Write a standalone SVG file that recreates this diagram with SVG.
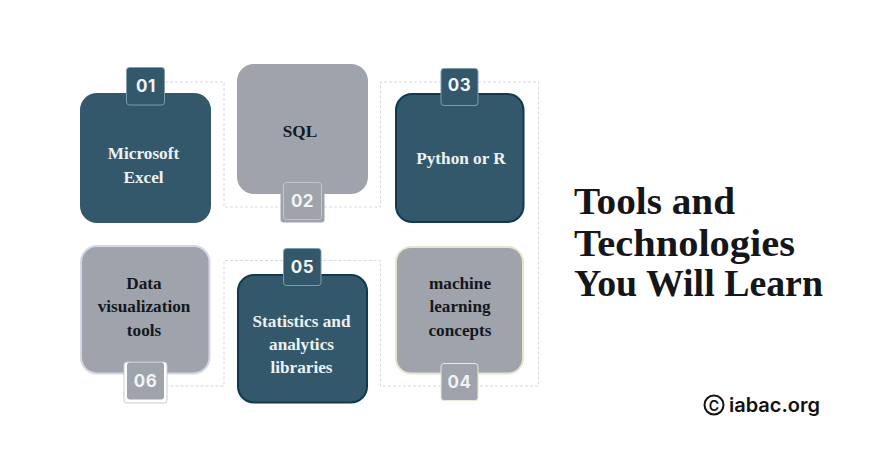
<svg xmlns="http://www.w3.org/2000/svg" width="870" height="463" viewBox="0 0 870 463">
<style>
.card{stroke-width:2}
.dark{fill:#33586c}
.grey{fill:#9ea3ac}
.lbl{font-family:"Liberation Serif",serif;font-weight:700;font-size:17.2px;text-anchor:middle}
.w{fill:#eef1f2}
.k{fill:#14171c}
.num{font-family:"Inter","Liberation Sans",sans-serif;font-weight:700;font-size:17px;text-anchor:middle;fill:#f1f3f4;letter-spacing:.5px}
.title{font-family:"Liberation Serif",serif;font-weight:700;font-size:38px;fill:#14161a}
.dash{fill:none;stroke:#d6d8db;stroke-width:1;stroke-dasharray:3 2}
</style>
<rect width="870" height="463" fill="#ffffff"/>
<g id="connectors">
<path class="dash" d="M165 82H224V207H281"/>
<path class="dash" d="M324 207H380.500V82H441"/>
<path class="dash" d="M478 82H538.500V386H478"/>
<path class="dash" d="M441 386H380.500V260.500H321"/>
<path class="dash" d="M283 260.500H224V386H167"/>
</g>
<g id="node-01">
<rect class="dark" x="80" y="93" width="131" height="130" rx="17"/>
<rect class="dark" x="126.500" y="67.500" width="38" height="37.500" rx="3" stroke="#7f9cac" stroke-width="1"/>
<text class="num" x="146" y="92">01</text>
<text class="lbl w" x="143.500" y="159">Microsoft</text>
<text class="lbl w" x="143.500" y="183">Excel</text>
</g>
<g id="node-02">
<rect class="grey" x="237" y="64" width="131" height="130" rx="17"/>
<rect x="280.500" y="181.500" width="44" height="41" rx="3" fill="#9ea3ac"/>
<rect class="grey" x="283.500" y="182.500" width="38" height="37" rx="3" stroke="#c3c6cc" stroke-width="1"/>
<text class="num" x="302.500" y="207">02</text>
<text class="lbl k" x="300" y="137">SQL</text>
</g>
<g id="node-03">
<rect class="dark card" x="396" y="94" width="127.500" height="128" rx="16" stroke="#0f3a50"/>
<rect class="dark" x="441" y="68.500" width="37" height="37" rx="3" stroke="#7f9cac" stroke-width="1"/>
<text class="num" x="459.500" y="91">03</text>
<text class="lbl w" x="461" y="164">Python or R</text>
</g>
<g id="node-04">
<rect class="grey card" x="396" y="247" width="127" height="126.500" rx="15" stroke="#e3e5cf"/>
<rect class="grey" x="441" y="363.500" width="37" height="37" rx="3" stroke="#e6e8d8" stroke-width="1"/>
<text class="num" x="459.500" y="388">04</text>
<text class="lbl k" x="460" y="289">machine</text>
<text class="lbl k" x="460" y="312">learning</text>
<text class="lbl k" x="460" y="336">concepts</text>
</g>
<g id="node-05">
<rect class="dark card" x="238" y="275" width="129" height="127.500" rx="16" stroke="#0f3a50"/>
<rect class="dark" x="283.500" y="248.500" width="37.500" height="37" rx="3" stroke="#7f9cac" stroke-width="1"/>
<text class="num" x="302.500" y="273">05</text>
<text class="lbl w" x="301.500" y="327">Statistics and</text>
<text class="lbl w" x="301.500" y="350">analytics</text>
<text class="lbl w" x="301.500" y="373">libraries</text>
</g>
<g id="node-06">
<rect class="grey card" x="81" y="246" width="128.500" height="127.500" rx="16" stroke="#d5d6ea"/>
<rect x="124" y="362" width="43" height="41" rx="3" fill="#ffffff" stroke="#c9cbd0" stroke-width="1"/>
<rect class="grey" x="127" y="362.500" width="37" height="37" rx="3"/>
<text class="num" x="145.500" y="387">06</text>
<text class="lbl k" x="144" y="289">Data</text>
<text class="lbl k" x="144" y="312">visualization</text>
<text class="lbl k" x="144" y="336">tools</text>
</g>
<g id="heading">
<text class="title" x="574" y="214" textLength="161" lengthAdjust="spacingAndGlyphs">Tools and</text>
<text class="title" x="574" y="256" textLength="221" lengthAdjust="spacingAndGlyphs">Technologies</text>
<text class="title" x="574" y="296" textLength="249" lengthAdjust="spacingAndGlyphs">You Will Learn</text>
</g>
<g id="logo">
<circle cx="714" cy="405" r="9.500" fill="none" stroke="#111" stroke-width="2"/>
<text x="714" y="410.500" font-family="Inter,'Liberation Sans',sans-serif" font-weight="600" font-size="14" text-anchor="middle" fill="#111">C</text>
<text x="729" y="412" font-family="Inter,'Liberation Sans',sans-serif" font-weight="600" font-size="20" fill="#111" textLength="91" lengthAdjust="spacingAndGlyphs">iabac.org</text>
</g>
</svg>
